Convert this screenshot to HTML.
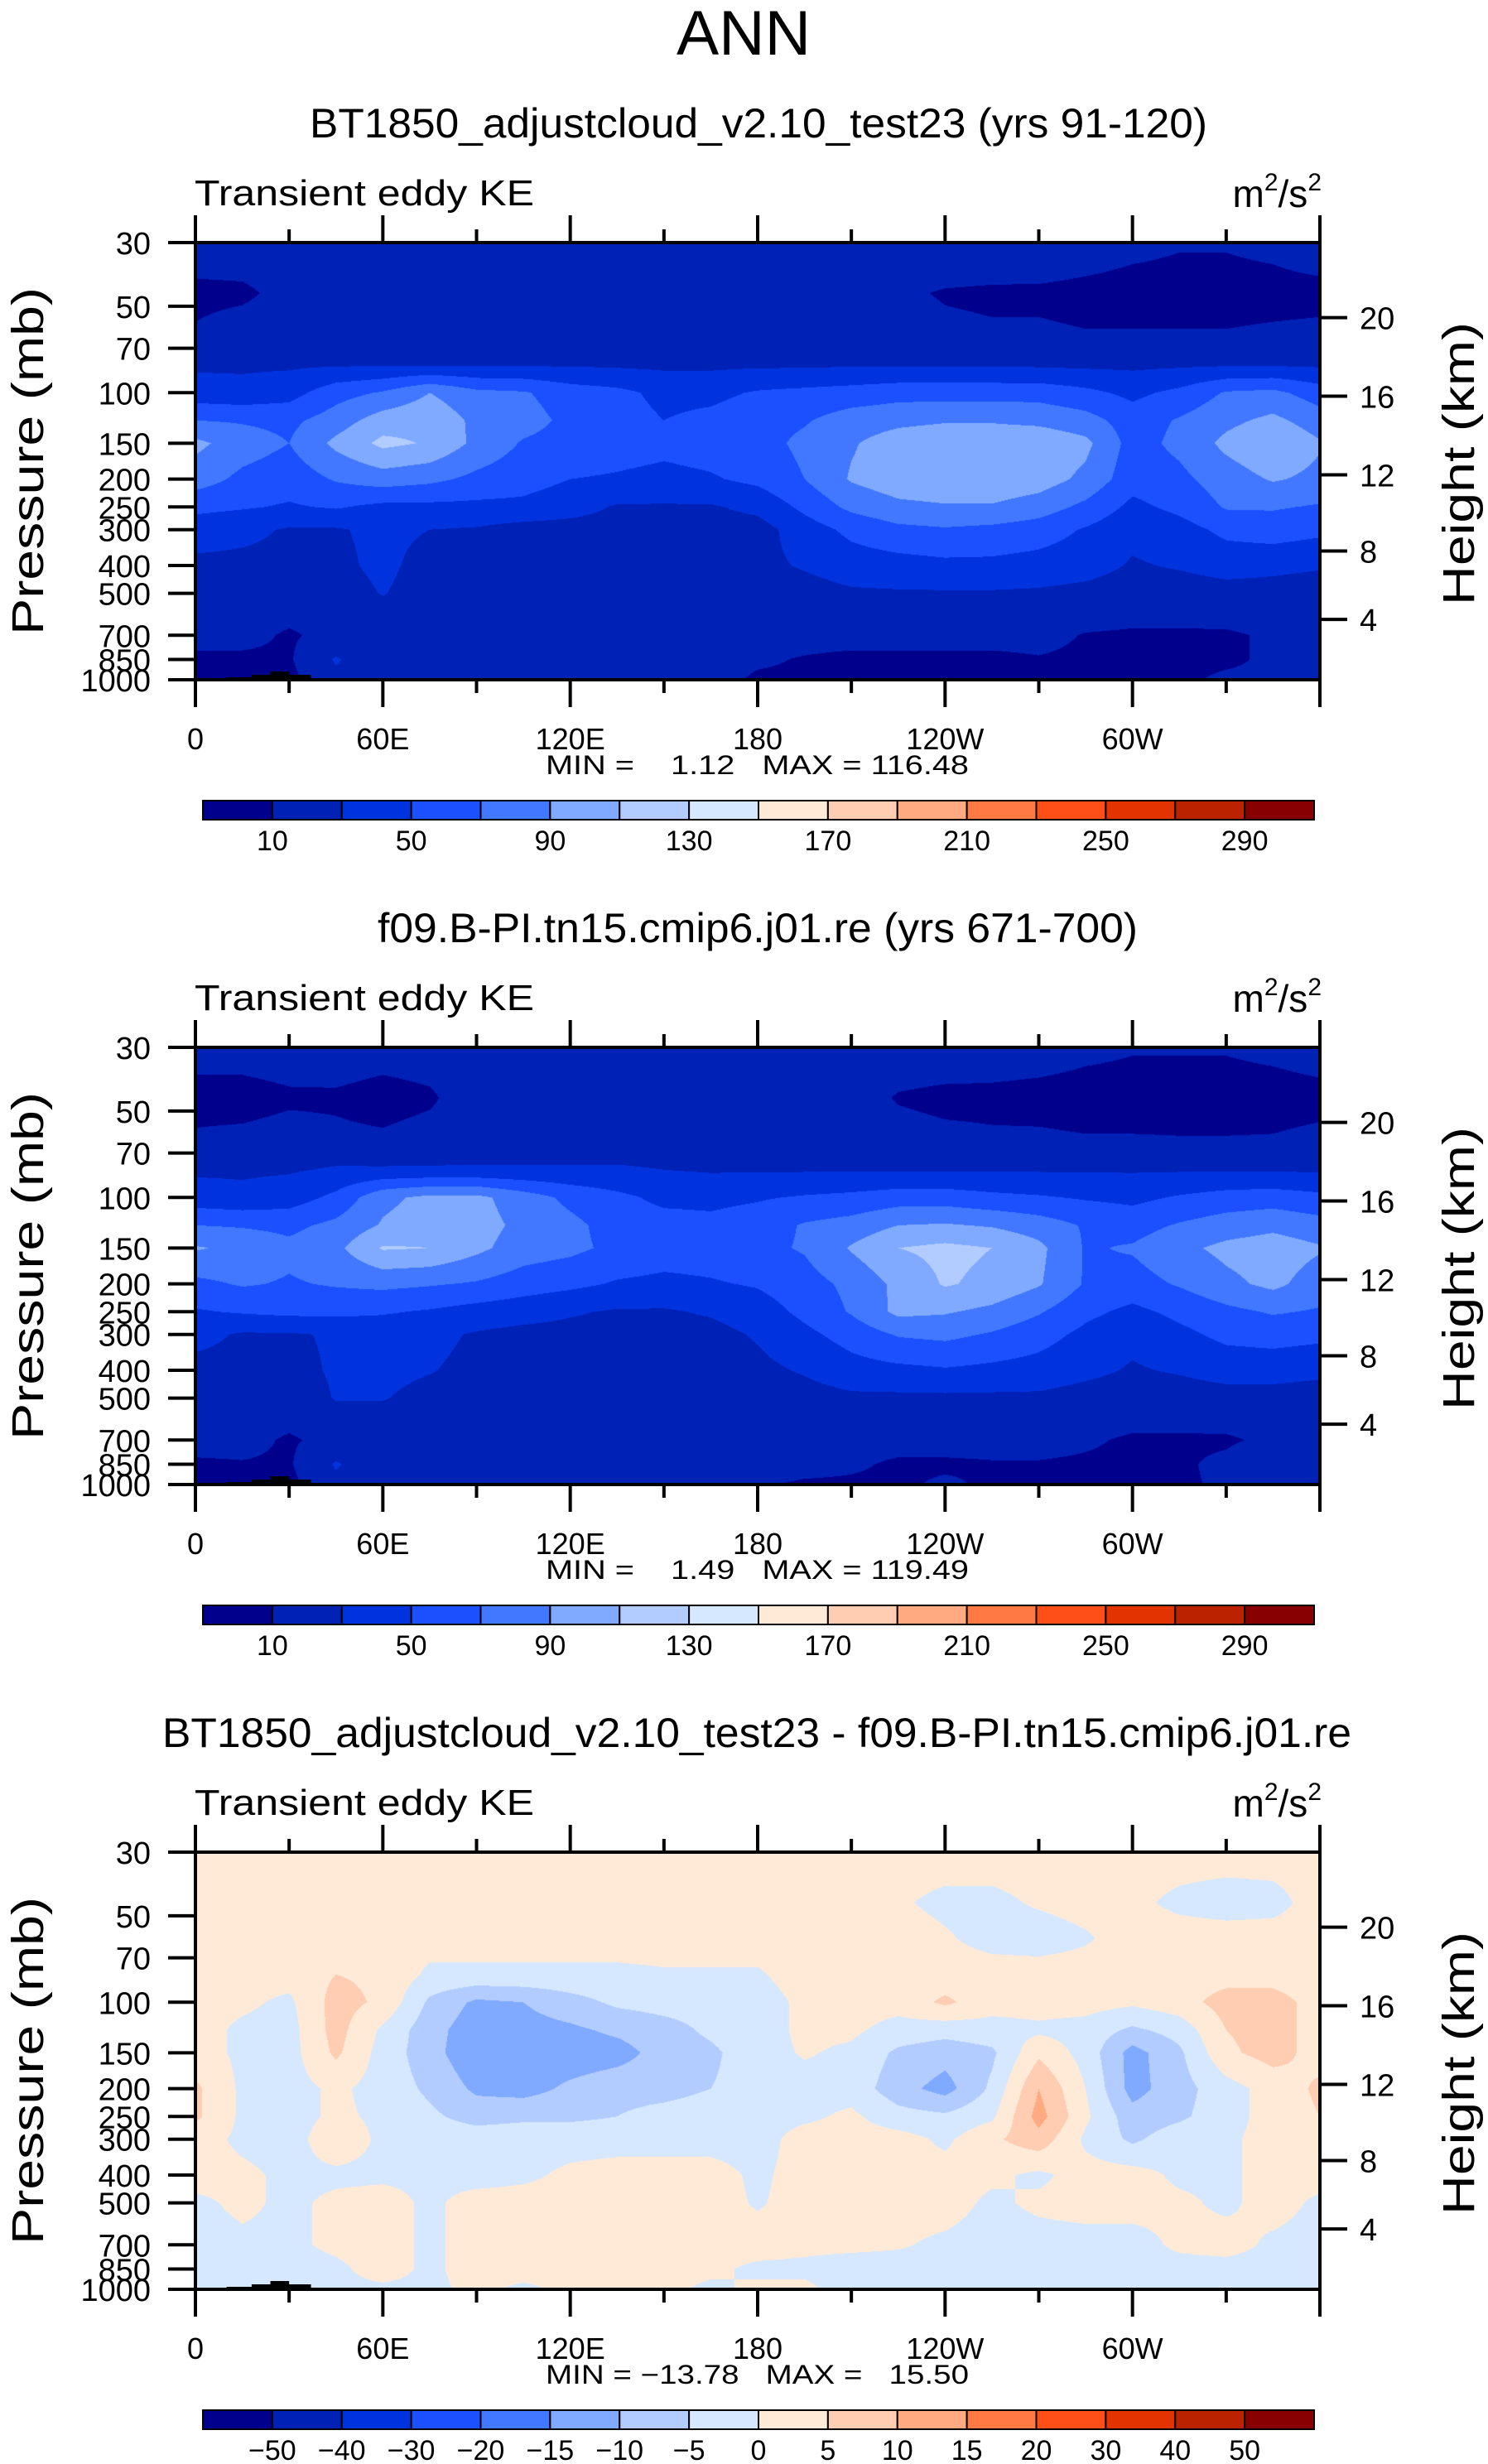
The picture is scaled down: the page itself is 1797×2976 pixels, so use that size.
<!DOCTYPE html>
<html><head><meta charset="utf-8">
<style>
html,body{margin:0;padding:0;background:#fff;}
#root{position:relative;width:1797px;height:2976px;overflow:hidden;background:#fff;}
canvas{position:absolute;}
svg{position:absolute;left:0;top:0;}
text{font-family:"Liberation Sans",sans-serif;fill:#000;}
</style></head>
<body>
<div id="root">
<canvas id="c0" width="1358" height="528" style="left:236px;top:293px"></canvas>
<canvas id="c1" width="1358" height="528" style="left:236px;top:1265px"></canvas>
<canvas id="c2" width="1358" height="528" style="left:236px;top:2237px"></canvas>
<svg id="ov" width="1797" height="2976">
<text x="898" y="66" font-size="76" text-anchor="middle" textLength="162" lengthAdjust="spacingAndGlyphs">ANN</text>

<text x="916" y="166" font-size="50" text-anchor="middle" textLength="1084" lengthAdjust="spacingAndGlyphs">BT1850_adjustcloud_v2.10_test23 (yrs 91-120)</text>
<text x="235" y="248" font-size="44" textLength="410" lengthAdjust="spacingAndGlyphs">Transient eddy KE</text>
<text x="1596" y="250" font-size="46" text-anchor="end">m<tspan font-size="30" dy="-20">2</tspan><tspan dy="20">/s</tspan><tspan font-size="30" dy="-20">2</tspan></text>
<text transform="translate(52,557) rotate(-90)" font-size="54" text-anchor="middle" textLength="420" lengthAdjust="spacingAndGlyphs">Pressure (mb)</text>
<text transform="translate(1780,560) rotate(-90)" font-size="54" text-anchor="middle" textLength="342" lengthAdjust="spacingAndGlyphs">Height (km)</text>
<text x="659" y="935" font-size="32" textLength="511" lengthAdjust="spacingAndGlyphs" xml:space="preserve">MIN =    1.12   MAX = 116.48</text>

<text x="915" y="1138" font-size="50" text-anchor="middle" textLength="918" lengthAdjust="spacingAndGlyphs">f09.B-PI.tn15.cmip6.j01.re (yrs 671-700)</text>
<text x="235" y="1220" font-size="44" textLength="410" lengthAdjust="spacingAndGlyphs">Transient eddy KE</text>
<text x="1596" y="1222" font-size="46" text-anchor="end">m<tspan font-size="30" dy="-20">2</tspan><tspan dy="20">/s</tspan><tspan font-size="30" dy="-20">2</tspan></text>
<text transform="translate(52,1529) rotate(-90)" font-size="54" text-anchor="middle" textLength="420" lengthAdjust="spacingAndGlyphs">Pressure (mb)</text>
<text transform="translate(1780,1532) rotate(-90)" font-size="54" text-anchor="middle" textLength="342" lengthAdjust="spacingAndGlyphs">Height (km)</text>
<text x="659" y="1907" font-size="32" textLength="511" lengthAdjust="spacingAndGlyphs" xml:space="preserve">MIN =    1.49   MAX = 119.49</text>

<text x="914" y="2110" font-size="50" text-anchor="middle" textLength="1436" lengthAdjust="spacingAndGlyphs">BT1850_adjustcloud_v2.10_test23 - f09.B-PI.tn15.cmip6.j01.re</text>
<text x="235" y="2192" font-size="44" textLength="410" lengthAdjust="spacingAndGlyphs">Transient eddy KE</text>
<text x="1596" y="2194" font-size="46" text-anchor="end">m<tspan font-size="30" dy="-20">2</tspan><tspan dy="20">/s</tspan><tspan font-size="30" dy="-20">2</tspan></text>
<text transform="translate(52,2501) rotate(-90)" font-size="54" text-anchor="middle" textLength="420" lengthAdjust="spacingAndGlyphs">Pressure (mb)</text>
<text transform="translate(1780,2504) rotate(-90)" font-size="54" text-anchor="middle" textLength="342" lengthAdjust="spacingAndGlyphs">Height (km)</text>
<text x="659" y="2879" font-size="32" textLength="511" lengthAdjust="spacingAndGlyphs" xml:space="preserve">MIN = −13.78   MAX =   15.50</text>
</svg>
</div>
<script>
// ---- data ----
const lonCols = [0,15,30,45,60,75,90,105,120,135,150,165,180,195,210,225,240,255,270,285,300,315,330,345,360];
const pRows = [30,45,60,80,100,125,150,200,250,300,400,500,700,850,1000];
const pTicks = [30,50,70,100,150,200,250,300,400,500,700,850,1000];
const hTicks = [4,8,12,16,20];
const lonTickLabels = ["0","60E","120E","180","120W","60W",""];
const keLevels = [10,30,50,70,90,110,130,150,170,190,210,230,250,270,290];
const keLabels = ["10","50","90","130","170","210","250","290"];
const diffLevels = [-50,-40,-30,-20,-15,-10,-5,0,5,10,15,20,30,40,50];
const diffLabels = ["−50","−40","−30","−20","−15","−10","−5","0","5","10","15","20","30","40","50"];
const palette = ["#00008c","#0021b6","#0033de","#1a50ff","#4178ff","#80aaff","#b3ccff","#d5e8ff","#ffead8","#ffcdb2","#ffaa80","#ff7a42","#ff4f19","#e33300","#bb2200","#880000"];

const keTest = [
[20,20,20,20,20,20,20,20,20,20,20,20,20,20,20,20,20,20,19,16,13,11,11,13,18],
[6,7,15,18,18,18,18,18,18,18,18,18,18,18,17,12,9,8,8,7,6,6,6,6,6],
[11,16,18,18,18,18,18,18,18,18,18,18,18,18,18,15,12,11,11,10,10,10,10,11,12],
[27,27,27,28,28,28,28,28,28,27,26,26,27,27,28,28,28,28,27,26,26,27,28,28,27],
[38,36,42,62,72,90,75,72,60,55,45,45,52,55,58,62,62,62,62,55,45,55,72,75,60],
[70,68,65,80,100,105,85,78,65,58,50,55,62,68,80,85,88,88,85,78,60,72,85,95,80],
[95,80,70,95,115,108,85,68,62,58,55,58,62,75,88,100,105,105,105,95,62,75,95,108,92],
[80,65,58,72,80,75,65,58,50,48,45,48,55,70,92,102,105,105,100,85,58,65,80,92,85],
[55,52,48,52,45,45,45,45,38,28,28,28,35,55,75,85,88,88,80,65,45,55,72,72,68],
[40,35,28,28,35,30,28,22,22,22,22,22,22,40,55,65,68,65,60,48,35,42,55,60,55],
[25,25,25,25,35,22,22,22,22,22,22,22,25,32,40,42,45,45,42,38,28,32,38,35,32],
[20,20,20,20,31,20,20,20,20,20,20,20,20,22,27,28,28,28,27,24,20,20,22,22,20],
[15,15,8,15,15,15,15,15,15,15,15,15,15,15,15,15,15,15,15,9,8,8,8,12,15],
[7,7,8,32,15,15,15,15,15,15,15,15,12,9,7,7,7,7,9,7,7,7,8,12,12],
[5,5,5,25,15,15,15,15,15,15,15,15,8,8,8,8,8,8,8,8,8,8,12,12,12]];

const keCtrl = [
[16,16,17,18,16,17,18,18,18,18,18,18,18,18,18,18,18,17,16,13,11,11,11,13,16],
[5,5,8,8,5,8,18,18,18,18,18,18,18,18,16,9,7,7,6,5,5,5,5,5,6],
[11,12,14,12,11,14,18,18,18,18,18,18,18,18,17,14,12,11,11,10,10,9,9,10,12],
[27,27,28,32,32,32,32,32,32,32,30,28,28,28,28,28,28,28,28,28,28,28,28,28,27],
[38,35,40,55,85,95,95,80,65,55,45,45,48,52,55,60,60,55,52,48,45,52,58,60,55],
[70,68,65,75,92,100,98,85,75,62,58,55,60,72,78,90,92,88,80,68,62,72,80,85,78],
[92,85,75,85,112,110,95,80,75,65,60,60,65,72,92,110,115,110,95,68,72,85,95,100,92],
[65,72,68,72,75,72,68,60,55,48,45,48,52,62,75,95,112,105,92,68,62,72,85,95,80],
[48,52,55,55,52,48,42,38,32,28,28,32,40,55,72,95,92,85,72,55,45,55,65,72,68],
[35,28,28,32,38,35,28,24,24,24,24,24,32,45,58,72,75,68,58,45,35,45,55,58,55],
[25,25,25,32,35,31,25,22,22,22,22,22,25,32,42,45,48,45,42,35,28,32,38,38,35],
[20,20,20,31,31,24,20,20,20,20,20,20,20,22,26,26,26,26,26,22,20,20,22,22,20],
[15,15,8,15,15,15,15,15,15,15,15,15,15,15,15,15,15,15,15,12,8,8,8,13,15],
[8,9,8,32,15,15,15,15,15,15,15,15,15,15,12,8,8,9,9,8,7,8,13,25,12],
[6,5,5,25,15,15,15,15,15,15,15,15,12,8,8,8,12,8,8,8,8,8,12,25,14]];

const keDiff = [
[2,2,2,2,2,2,2,2,2,2,2,2,2,2,2,2,2,2,2,2,2,2,2,2,2],
[2,2,2,2,2,2,2,2,2,2,2,2,2,2,2,0.5,-1,-1,0.5,1.5,1,-1,-2,-1.5,2],
[2,2,2,2,2,2,2,2,2,2,2,2,2,2,2,2,0.5,-1.5,-2,-0.5,2,2,2,2,2],
[2,2,2,5,4,-1,-1,-1,-1,-1,-0.5,-0.5,-0.5,2,2,2,2,2,2,2,2,3,3,3,2],
[2,1,-1,7,4,-6,-11,-10,-7,-4,-3,-3,-2,1,2,2,6,2,2,2,1,3,7,7,3],
[2,-1,-2,7,-1,-8,-13,-12,-11,-9,-7,-4,-2,1,1,-2,-3,-2,-1,-2,-6,-3,5,7,3],
[2,-1,-2,6,-2,-8,-14,-13,-13,-12,-8,-6,-2,0.5,-1,-6,-8,-6,4,-2,-12,-6,4,7,3],
[6,-1,-2,1,-2,-6,-11,-12,-9,-7,-7,-5,-3,-2,-2,-8,-12,-4,10,0,-12,-7,-2,2,6],
[6,-1,-2,1,-1,-4,-7,-6,-6,-5,-3,-2,-2,-1,1,-3,-4,-1,12,1,-8,-6,-2,2,5],
[2,-1,-2,3,-1,-2,-2,-2,-2,-2,-2,-2,-2,2,2,2,-1,4,8,-1,-6,-2,-1,2,2],
[2,1,-1,-1,-1,-1,-2,-1,1,2,2,2,-1,2,2,2,2,1,-1,2,2,-1,-1,2,2],
[-1,1,-1,1,2,-1,2,2,2,2,2,2,-0.5,2,2,2,2,-1,1,2,2,1,-1,2,-1],
[-2,-1,-1,1,2,-1,2,2,2,2,2,2,2,1,1,0.5,-1,-2,-2,-2,-2,1,2,-1,-2],
[-2,-2,-2,-1,2,-1,2,2,2,2,2,1,-1,-1,-2,-2,-2,-2,-2,-2,-2,-2,-2,-2,-2],
[-2,-2,-2,-1,-1,-1,1,-1,1,1,1,-1,1,1,-2,-3,-3,-3,-2,-2,-2,-2,-2,-2,-2]];

// ---- geometry ----
const PL = 236, PR = 1594, PT = 293, PH = 528, PW = PR - PL;
const offsets = [0, 972, 1944];
const LNTOP = Math.log(1000/30);
function yOfP(p){ return PH - PH*Math.log(1000/p)/LNTOP; }
function pOfY(y){ return 1000/Math.exp((PH-y)/PH*LNTOP); }
function xOfLon(l){ return PW*l/360; }
function pOfZ(zkm){ const z=zkm*1000; return z<=11000 ? 1013.25*Math.pow(1-2.25577e-5*z,5.25588) : 226.32*Math.exp(-(z-11000)/6341.6); }
function hexToRgb(h){ return [parseInt(h.substr(1,2),16),parseInt(h.substr(3,2),16),parseInt(h.substr(5,2),16)]; }
const palRgb = palette.map(hexToRgb);

function drawField(canvasId, field, levels){
  const cv = document.getElementById(canvasId);
  const ctx = cv.getContext('2d');
  const W = cv.width, H = cv.height;
  const img = ctx.createImageData(W,H);
  const lnRows = pRows.map(p=>Math.log(p));
  for(let py=0; py<H; py++){
    const lp = Math.log(pOfY(py+0.5));
    let r=0; while(r<pRows.length-2 && lp>lnRows[r+1]) r++;
    let fr=(lp-lnRows[r])/(lnRows[r+1]-lnRows[r]); fr=Math.max(0,Math.min(1,fr));
    for(let px=0; px<W; px++){
      const lon=(px+0.5)/W*360;
      let c=Math.min(lonCols.length-2, Math.floor(lon/15));
      const fc=(lon-lonCols[c])/15;
      const v=(field[r][c]*(1-fc)+field[r][c+1]*fc)*(1-fr)+(field[r+1][c]*(1-fc)+field[r+1][c+1]*fc)*fr;
      let k=0; while(k<levels.length && v>=levels[k]) k++;
      const col=palRgb[k]; const i=(py*W+px)*4;
      img.data[i]=col[0]; img.data[i+1]=col[1]; img.data[i+2]=col[2]; img.data[i+3]=255;
    }
  }
  ctx.putImageData(img,0,0);
}
drawField('c0', keTest, keLevels);
drawField('c1', keCtrl, keLevels);
drawField('c2', keDiff, diffLevels);

const NS='http://www.w3.org/2000/svg';
const ov=document.getElementById('ov');
function mk(tag, attrs){ const e=document.createElementNS(NS,tag); for(const k in attrs) e.setAttribute(k,attrs[k]); ov.appendChild(e); return e; }

offsets.forEach((dy,pi)=>{
  const top=PT+dy, bot=PT+dy+PH;
  const fr=mk('rect',{x:PL,y:top,width:PW,height:PH,fill:'none',stroke:'#000','stroke-width':4});
  
  
  const topo=mk('path',{d:`M${PL+xOfLon(10)} ${bot} v-3 h${xOfLon(8)} v-3 h${xOfLon(6)} v-4 h${xOfLon(6)} v4 h${xOfLon(7)} v6 Z`,fill:'#000'});
  
  
  for(let l=0;l<=360;l+=30){
    const x=PL+xOfLon(l); const major=(l%60===0); const len=major?33:16;
    const t1=mk('line',{x1:x,y1:top,x2:x,y2:top-len,stroke:'#000','stroke-width':4});
    
    
    const t2=mk('line',{x1:x,y1:bot,x2:x,y2:bot+len,stroke:'#000','stroke-width':4});
    
    
    if(major && lonTickLabels[l/60]){
      const tx=mk('text',{x:x,y:bot+84,'font-size':36,'text-anchor':'middle'});
      tx.textContent=lonTickLabels[l/60];
      
      
    }
  }
  pTicks.forEach(p=>{
    const y=top+yOfP(p);
    const t=mk('line',{x1:PL-33,y1:y,x2:PL,y2:y,stroke:'#000','stroke-width':4});
    
    
    const tx=mk('text',{x:182,y:y+14,'font-size':38,'text-anchor':'end'});
    tx.textContent=String(p);
    
    
  });
  hTicks.forEach(h=>{
    const y=top+yOfP(pOfZ(h));
    const t=mk('line',{x1:PR,y1:y,x2:PR+33,y2:y,stroke:'#000','stroke-width':4});
    
    
    const tx=mk('text',{x:1642,y:y+14,'font-size':38});
    tx.textContent=String(h);
    
    
  });
  const cbL=245, cbR=1587, cbT=967+dy, cbH=23, bw=(cbR-cbL)/palette.length;
  palette.forEach((c,i)=>{
    const r=mk('rect',{x:cbL+i*bw,y:cbT,width:bw,height:cbH,fill:c,stroke:'#000','stroke-width':2});
    
    
  });
  if(pi<2){
    keLabels.forEach((lab,j)=>{
      const tx=mk('text',{x:cbL+bw*(1+2*j),y:cbT+60,'font-size':34,'text-anchor':'middle'});
      tx.textContent=lab;
      
      
    });
  } else {
    diffLabels.forEach((lab,j)=>{
      const tx=mk('text',{x:cbL+bw*(1+j),y:cbT+60,'font-size':34,'text-anchor':'middle'});
      tx.textContent=lab;
      
      
    });
  }
});
</script>
</body></html>
